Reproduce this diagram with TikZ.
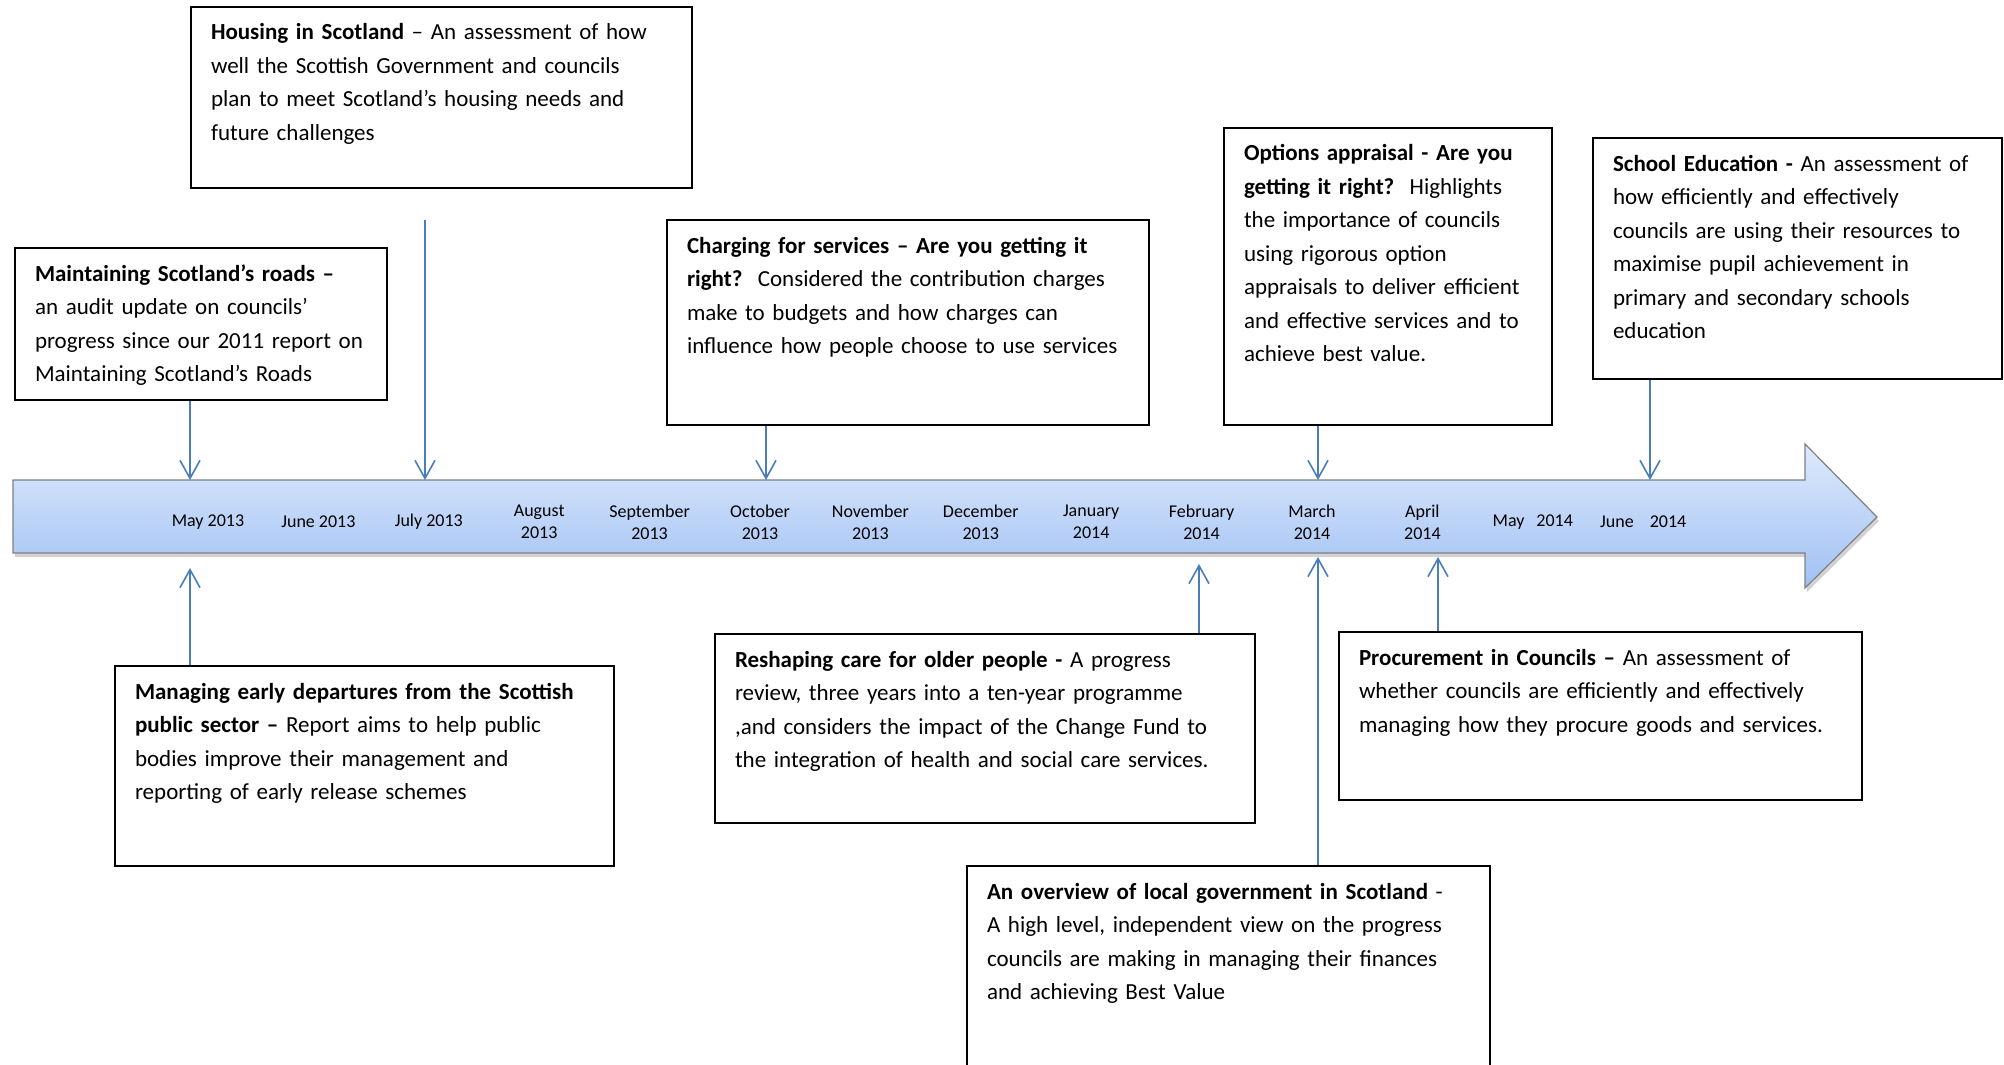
\documentclass[tikz,border=0pt]{standalone}
\usepackage{fontspec}
\setmainfont{Carlito}
\usetikzlibrary{arrows.meta,positioning,shadows}
\hyphenpenalty=10000

\definecolor{linkblue}{RGB}{74,126,187}
\definecolor{bandtop}{RGB}{222,234,253}
\definecolor{bandbot}{RGB}{160,192,243}

\tikzset{
  report/.style={draw=black, line width=1pt, anchor=north west, align=left,
    inner xsep=10pt, inner ysep=0pt, text height=16.5pt,
    font=\fontsize{11.5}{16.75}\selectfont},
  month/.style={align=center, font=\fontsize{9}{11}\selectfont},
  link/.style={draw=linkblue, line width=0.8pt, -{Straight Barb[length=9pt,width=10pt]}}
}

\begin{document}
\begin{tikzpicture}[x=0.5pt, y=-0.5pt]
\useasboundingbox (0,0) rectangle (2004,1065);
\fill[white] (0,0) rectangle (2004,1065);
\clip (0,0) rectangle (2004,1065);

% Casova osa
\path[draw=gray, line width=0.6pt, top color=bandtop, bottom color=bandbot,
  drop shadow={shadow xshift=1pt, shadow yshift=-2pt, opacity=0.35}]
  (13,480) -- (1805,480) -- (1805,444) -- (1877,517) -- (1805,588) -- (1805,553) -- (13,553) -- cycle;

% Mesice
\foreach \lbl [count=\i from 0] in {May 2013, June 2013, July 2013, August\\2013,
  September\\2013, October\\2013, November\\2013, December\\2013, January\\2014,
  February\\2014, March\\2014, April\\2014, May\hspace{6pt}2014, June\hspace{8pt}2014}
  \node[month] (m\i) at ({208+110.4*\i}, 522) {\lbl};

% Zpravy nad osou
\node[report, text width=166pt, text depth=59.5pt] (roads) at (14,247)
  {\textbf{Maintaining Scotland’s roads –}\\an audit update on councils’\\\mbox{progress since our 2011 report on}\\Maintaining Scotland’s Roads};
\node[report, text width=230.5pt, text depth=74pt] (housing) at (190,6)
  {\textbf{Housing in Scotland} – An assessment of how\\well the Scottish Government and councils\\plan to meet Scotland’s housing needs and\\future challenges};
\node[report, text width=221pt, text depth=86pt] (charging) at (666,219)
  {\textbf{Charging for services – Are you getting it}\\\textbf{right?}\ \ Considered the contribution charges\\make to budgets and how charges can\\\mbox{influence how people choose to use services}};
\node[report, text width=144pt, text depth=132pt] (options) at (1223,127)
  {\textbf{Options appraisal - Are you}\\\textbf{getting it right?}\ \ Highlights\\the importance of councils\\using rigorous option\\\mbox{appraisals to deliver efficient}\\and effective services and to\\achieve best value.};
\node[report, text width=184.5pt, text depth=104pt] (school) at (1592,137)
  {\mbox{\textbf{School Education -} An assessment of}\\how efficiently and effectively\\councils are using their resources to\\maximise pupil achievement in\\primary and secondary schools\\education};

% Zpravy pod osou
\node[report, text width=229.5pt, text depth=83.5pt] (managing) at (114,665)
  {\textbf{Managing early departures from the Scottish}\\\textbf{public sector –} Report aims to help public\\bodies improve their management and\\reporting of early release schemes};
\node[report, text width=250pt, text depth=78pt] (reshaping) at (714,633)
  {\textbf{Reshaping care for older people -} A progress\\review, three years into a ten-year programme\\,and considers the impact of the Change Fund to\\the integration of health and social care services.};
\node[report, text width=241.5pt, text depth=67.5pt] (procurement) at (1338,631)
  {\textbf{Procurement in Councils –} An assessment of\\whether councils are efficiently and effectively\\\mbox{managing how they procure goods and services.}};
\node[report, text width=241.5pt, text depth=93.5pt] (overview) at (966,865)
  {\textbf{An overview of local government in Scotland} -\\A high level, independent view on the progress\\councils are making in managing their finances\\and achieving Best Value};

% Body na ose
\coordinate (mayT) at (190,480);
\coordinate (julT) at (425,480);
\coordinate (octT) at (766,480);
\coordinate (marT) at (1318,480);
\coordinate (junT) at (1650,480);
\coordinate (mayB) at (190,568);
\coordinate (febB) at (1199,564);
\coordinate (marB) at (1318,557);
\coordinate (aprB) at (1438,557);

% Sipky
\draw[link] (roads.south -| mayT) -- (mayT);
\draw[link, shorten <=15.5pt] (housing.south -| julT) -- (julT);
\draw[link] (charging.south -| octT) -- (octT);
\draw[link] (options.south -| marT) -- (marT);
\draw[link] (school.south -| junT) -- (junT);
\draw[link] (managing.north -| mayB) -- (mayB);
\draw[link] (reshaping.north -| febB) -- (febB);
\draw[link] (overview.north -| marB) -- (marB);
\draw[link] (procurement.north -| aprB) -- (aprB);
\end{tikzpicture}
\end{document}
